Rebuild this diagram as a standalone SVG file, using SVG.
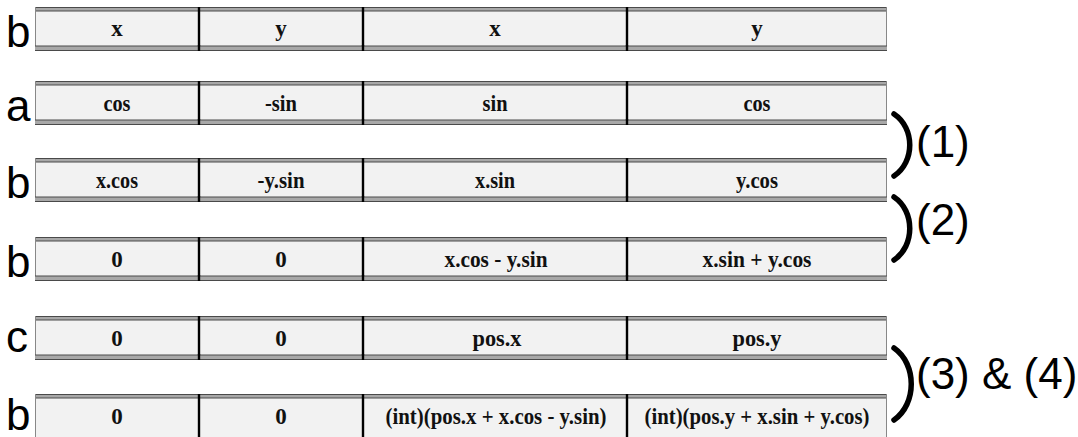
<svg xmlns="http://www.w3.org/2000/svg" width="1078" height="437" viewBox="0 0 1078 437">
<style>
.cell{fill:#f2f2f2;stroke:none}
.band{fill:#a8a8a8;stroke:none}
.bl{stroke:#4a4a4a;stroke-width:1}
.edge{stroke:#888;stroke-width:1}
.div{stroke:#000;stroke-width:2.4}
.t{font-family:"Liberation Serif",serif;font-weight:bold;font-size:23px;text-anchor:middle;fill:#111}
.lab{font-family:"Liberation Sans",Arial,sans-serif;font-size:44px;fill:#000}
.br{fill:none;stroke:#000;stroke-width:5.5;stroke-linecap:round}
</style>
<defs>
<g id="rowbody">
<rect class="cell" x="35" y="0" width="852" height="44"/>
<rect class="band" x="35" y="0" width="852" height="4"/>
<line class="bl" x1="35" y1="0.5" x2="887" y2="0.5"/>
<line class="bl" x1="35" y1="4" x2="887" y2="4"/>
<line class="edge" x1="35.5" y1="0" x2="35.5" y2="44"/>
<line class="edge" x1="886.5" y1="0" x2="886.5" y2="44"/>
<line class="div" x1="199" y1="0" x2="199" y2="44"/>
<line class="div" x1="363" y1="0" x2="363" y2="44"/>
<line class="div" x1="627" y1="0" x2="627" y2="44"/>
</g>
<g id="row">
<use href="#rowbody"/>
<rect class="band" x="35" y="39" width="852" height="5"/>
<line class="bl" x1="35" y1="39" x2="887" y2="39"/>
<line class="bl" x1="35" y1="43.5" x2="887" y2="43.5"/>
<line class="div" x1="199" y1="38" x2="199" y2="44"/>
<line class="div" x1="363" y1="38" x2="363" y2="44"/>
<line class="div" x1="627" y1="38" x2="627" y2="44"/>
</g>
</defs>
<g id="row1">
<use href="#row" y="7"/>
<text class="lab" x="6" y="47">b</text>
<text class="t" x="117" y="36">x</text>
<text class="t" x="281" y="36">y</text>
<text class="t" x="495" y="36">x</text>
<text class="t" x="757" y="36">y</text>
</g>
<g id="row2">
<use href="#row" y="81"/>
<text class="lab" x="6" y="121">a</text>
<text class="t" x="117" y="111" textLength="27" lengthAdjust="spacingAndGlyphs">cos</text>
<text class="t" x="281" y="111" textLength="32" lengthAdjust="spacingAndGlyphs">-sin</text>
<text class="t" x="495" y="111" textLength="25" lengthAdjust="spacingAndGlyphs">sin</text>
<text class="t" x="757" y="111" textLength="27" lengthAdjust="spacingAndGlyphs">cos</text>
</g>
<g id="row3">
<use href="#row" y="158"/>
<text class="lab" x="6" y="198">b</text>
<text class="t" x="117" y="188" textLength="42" lengthAdjust="spacingAndGlyphs">x.cos</text>
<text class="t" x="281" y="188" textLength="47" lengthAdjust="spacingAndGlyphs">-y.sin</text>
<text class="t" x="495" y="188" textLength="40" lengthAdjust="spacingAndGlyphs">x.sin</text>
<text class="t" x="757" y="188" textLength="42" lengthAdjust="spacingAndGlyphs">y.cos</text>
</g>
<g id="row4">
<use href="#row" y="237"/>
<text class="lab" x="6" y="277">b</text>
<text class="t" x="117" y="267">0</text>
<text class="t" x="281" y="267">0</text>
<text class="t" x="496" y="267" textLength="103" lengthAdjust="spacingAndGlyphs">x.cos - y.sin</text>
<text class="t" x="757" y="267" textLength="109" lengthAdjust="spacingAndGlyphs">x.sin + y.cos</text>
</g>
<g id="row5">
<use href="#row" y="316"/>
<text class="lab" x="6" y="352">c</text>
<text class="t" x="117" y="346">0</text>
<text class="t" x="281" y="346">0</text>
<text class="t" x="497" y="346" textLength="49" lengthAdjust="spacingAndGlyphs">pos.x</text>
<text class="t" x="757" y="346" textLength="49" lengthAdjust="spacingAndGlyphs">pos.y</text>
</g>
<g id="row6">
<use href="#rowbody" y="394"/>
<text class="lab" x="6" y="430">b</text>
<text class="t" x="117" y="424">0</text>
<text class="t" x="281" y="424">0</text>
<text class="t" x="496" y="424" textLength="221" lengthAdjust="spacingAndGlyphs">(int)(pos.x + x.cos - y.sin)</text>
<text class="t" x="757" y="424" textLength="225" lengthAdjust="spacingAndGlyphs">(int)(pos.y + x.sin + y.cos)</text>
</g>
<g id="connectors">
<path class="br" d="M894,114 C915,128 915,162 894,176"/>
<path class="br" d="M894,197 C915,211 915,246 894,260"/>
<path class="br" d="M894,348 C917,364 917,404 894,420"/>
</g>
<g id="labels">
<text class="lab" x="916" y="157">(1)</text>
<text class="lab" x="916" y="235">(2)</text>
<text class="lab" x="916" y="389">(3) &amp; (4)</text>
</g>
</svg>
